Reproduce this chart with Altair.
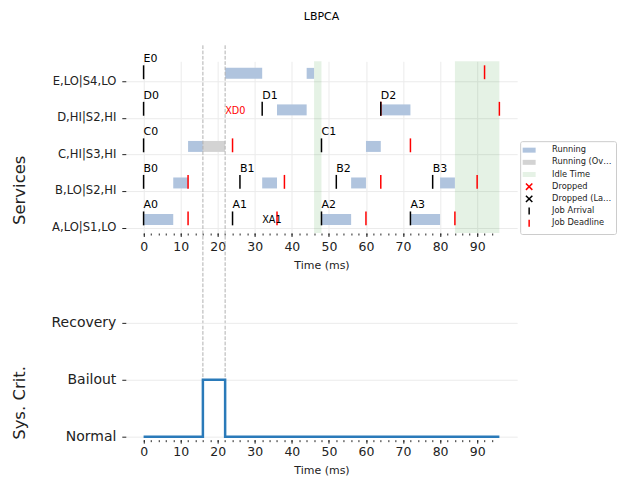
import altair as alt
import pandas as pd

# ---------------- data ----------------
services = ["A,LO|S1,LO", "B,LO|S2,HI", "C,HI|S3,HI", "D,HI|S2,HI", "E,LO|S4,LO"]

run_svc = [0, 0, 0, 1, 1, 1, 1, 2, 2, 3, 3, 4, 4]
run_start = [0, 48, 72, 8, 32, 56, 80, 12, 60, 36, 64, 22, 44]
run_end = [8, 56, 80, 12, 36, 60, 84, 16, 64, 44, 72, 32, 46]

over_svc = [2]
over_start = [16]
over_end = [22]

idle_start = [46, 84]
idle_end = [48, 96]

job_svc = [0, 0, 0, 0, 1, 1, 1, 1, 2, 2, 3, 3, 3, 4]
job_name = ["A0", "A1", "A2", "A3", "B0", "B1", "B2", "B3", "C0", "C1", "D0", "D1", "D2", "E0"]
job_arrival = [0, 24, 48, 72, 0, 26, 52, 78, 0, 48, 0, 32, 64, 0]

dl_svc = [0, 0, 0, 0, 1, 1, 1, 1, 2, 2, 3, 3, 4]
dl_time = [12, 36, 60, 84, 12, 38, 64, 90, 24, 72, 64, 96, 92]

drop_svc = [3, 0]
drop_time = [22, 32]
drop_label = ["XD0", "XA1"]
drop_kind = ["Dropped", "Dropped (Lazy)"]

mode_change = [16, 22]

crit_levels = ["Normal", "Bailout", "Recovery"]
crit_time = [0, 16, 22, 96]
crit_value = [0, 1, 0, 0]

legend_items = ["Running", "Running (Overrun)", "Idle Time", "Dropped",
                "Dropped (Lazy)", "Job Arrival", "Job Deadline"]

major_ticks = list(range(0, 100, 10))
minor_ticks = list(range(0, 96, 2))

# ---------------- frames ----------------
run_df = pd.DataFrame({"svc": run_svc, "start": run_start, "end": run_end})
over_df = pd.DataFrame({"svc": over_svc, "start": over_start, "end": over_end})
idle_df = pd.DataFrame({"start": idle_start, "end": idle_end})
job_df = pd.DataFrame({"svc": job_svc, "name": job_name, "t": job_arrival})
dl_df = pd.DataFrame({"svc": dl_svc, "t": dl_time})
drop_df = pd.DataFrame({"svc": drop_svc, "t": drop_time, "label": drop_label, "kind": drop_kind})
mode_df = pd.DataFrame({"t": mode_change})
crit_df = pd.DataFrame({"t": crit_time, "v": crit_value})
leg_df = pd.DataFrame({"item": legend_items, "t": [-100] * len(legend_items)})

# ---------------- styling ----------------
W, H1, H2 = 392, 172, 117
GAP = 90
TXT = "#222222"
GRID = "#ebebeb"
xs = alt.Scale(domain=[-4.8, 100.8], nice=False, zero=False)
ys1 = alt.Scale(domain=[-0.15, 4.55], nice=False, zero=False)
ys2 = alt.Scale(domain=[-0.05, 2.0], nice=False, zero=False)


def main_xaxis(grid, lpad):
    return alt.Axis(values=major_ticks, title="Time (ms)", grid=grid, gridColor=GRID,
                    tickSize=3.5, tickColor=TXT, labelFontSize=12.5, labelPadding=lpad,
                    labelColor=TXT, titleFontSize=11, titleFontWeight="normal",
                    titleColor=TXT, titlePadding=7, domain=False, orient="bottom",
                    labelFlush=False)


minor_axis = alt.Axis(values=minor_ticks, labels=False, title=None, grid=False,
                      tickSize=2, tickColor=TXT, domain=False, orient="bottom")

svc_expr = "[" + ",".join("'%s'" % s for s in services) + "][datum.value]"
crit_expr = "[" + ",".join("'%s'" % s for s in crit_levels) + "][datum.value]"

yaxis1 = alt.Axis(values=list(range(len(services))), labelExpr=svc_expr, title="Services",
                  titleX=-101, titleY=128.7, titleAngle=270, titleBaseline="alphabetic",
                  titleAlign="center", titleFontSize=16.5, titleFontWeight="normal",
                  titleColor=TXT, grid=True, gridColor=GRID, tickSize=4, tickColor=TXT,
                  labelPadding=6, labelFontSize=11.6, labelColor=TXT, domain=False)

yaxis2 = alt.Axis(values=list(range(len(crit_levels))), labelExpr=crit_expr, title="Sys. Crit.",
                  titleX=-101, titleY=79.7, titleAngle=270, titleBaseline="alphabetic",
                  titleAlign="center", titleFontSize=16.5, titleFontWeight="normal",
                  titleColor=TXT, grid=True, gridColor=GRID, tickSize=4, tickColor=TXT,
                  labelPadding=6, labelFontSize=14, labelColor=TXT, domain=False)

leg_common = dict(orient="none", legendX=395, legendY=80, title=None, labelFontSize=8.3,
                  labelColor=TXT, symbolSize=64, symbolStrokeWidth=1.5, rowPadding=-1.8,
                  labelOffset=18, padding=4, strokeColor="#cccccc", cornerRadius=2,
                  fillColor="white", labelLimit=62)

fill_range = ["#b0c4de", "#d3d3d3", "#e6f2e6", "transparent", "transparent",
              "transparent", "transparent"]
stroke_range = ["transparent", "transparent", "transparent", "red", "black", "black", "red"]
box = "M-1.625,-0.875M1.625,0.875"
rect_path = box + "M-1.625,-0.625L1.625,-0.625L1.625,0.625L-1.625,0.625Z"
x_path = box + "M-0.8,-0.8L0.8,0.8M0.8,-0.8L-0.8,0.8"
bar_path = box + "M0,-0.875L0,0.875"
shape_range = [rect_path, rect_path, rect_path, x_path, x_path, bar_path, bar_path]


def y1(field):
    return alt.Y(field, scale=ys1, axis=yaxis1)


# ---------------- top panel ----------------
idle = alt.Chart(idle_df).mark_rect(fill="green", opacity=0.1).encode(
    x=alt.X("start:Q", scale=xs, axis=None), x2="end:Q",
    y=alt.value(0), y2=alt.value(H1))

running = alt.Chart(run_df).transform_calculate(
    y0="datum.svc + 0.07", y1="datum.svc + 0.37").mark_rect(fill="#b0c4de").encode(
    x=alt.X("start:Q", scale=xs, axis=main_xaxis(True, 4)), x2="end:Q",
    y=y1("y0:Q"), y2="y1:Q")

overrun = alt.Chart(over_df).transform_calculate(
    y0="datum.svc + 0.07", y1="datum.svc + 0.37").mark_rect(fill="#d3d3d3").encode(
    x=alt.X("start:Q", scale=xs, axis=None), x2="end:Q",
    y=y1("y0:Q"), y2="y1:Q")

deadlines = alt.Chart(dl_df).transform_calculate(
    y0="datum.svc + 0.06", y1="datum.svc + 0.44").mark_rule(color="red", strokeWidth=1.5).encode(
    x=alt.X("t:Q", scale=xs, axis=None),
    y=y1("y0:Q"), y2="y1:Q")

arrivals = alt.Chart(job_df).transform_calculate(
    y0="datum.svc + 0.06", y1="datum.svc + 0.44").mark_rule(color="black", strokeWidth=1.5).encode(
    x=alt.X("t:Q", scale=xs, axis=None),
    y=y1("y0:Q"), y2="y1:Q")

labels = alt.Chart(job_df).transform_calculate(
    yl="datum.svc + 0.53").mark_text(align="left", baseline="alphabetic", fontSize=11,
                                     color="black").encode(
    x=alt.X("t:Q", scale=xs, axis=None),
    y=y1("yl:Q"), text="name:N")

drops = alt.Chart(drop_df).transform_calculate(
    yl="datum.svc + 0.2").mark_text(align="left", baseline="middle", fontSize=9.7).encode(
    x=alt.X("t:Q", scale=xs, axis=None),
    y=y1("yl:Q"), text="label:N",
    color=alt.Color("kind:N", scale=alt.Scale(domain=["Dropped", "Dropped (Lazy)"],
                                              range=["red", "black"]), legend=None))

modes = alt.Chart(mode_df).mark_rule(color="#b0b0b0", strokeDash=[3.7, 1.6], strokeWidth=1,
                                     clip=False).encode(
    x=alt.X("t:Q", scale=xs, axis=None),
    y=alt.value(-16), y2=alt.value(H1 + GAP + 114))

legend = alt.Chart(leg_df).mark_point(opacity=1, clip=True, size=64).encode(
    x=alt.X("t:Q", scale=xs, axis=None), y=alt.value(10),
    fill=alt.Fill("item:N", scale=alt.Scale(domain=legend_items, range=fill_range),
                  legend=alt.Legend(**leg_common)),
    stroke=alt.Stroke("item:N", scale=alt.Scale(domain=legend_items, range=stroke_range),
                      legend=alt.Legend(**leg_common)),
    shape=alt.Shape("item:N", scale=alt.Scale(domain=legend_items, range=shape_range),
                    legend=alt.Legend(**leg_common)))

minor_top = alt.Chart(idle_df).mark_point(opacity=0, size=1).encode(
    x=alt.X("start:Q", scale=xs, axis=minor_axis), y=alt.value(0))

top = alt.layer(idle, running, overrun, deadlines, arrivals, labels, drops, modes, legend,
                minor_top).resolve_axis(x="independent").properties(width=W, height=H1)

# ---------------- bottom panel ----------------
crit_line = alt.Chart(crit_df).mark_line(interpolate="step-after", color="#2a7ab9",
                                         strokeWidth=2.5).encode(
    x=alt.X("t:Q", scale=xs, axis=main_xaxis(False, 2)),
    y=alt.Y("v:Q", scale=ys2, axis=yaxis2))

minor_bot = alt.Chart(crit_df).mark_point(opacity=0, size=1).encode(
    x=alt.X("t:Q", scale=xs, axis=minor_axis), y=alt.value(0))

bottom = alt.layer(crit_line, minor_bot).resolve_axis(x="independent").properties(
    width=W, height=H2)

chart = alt.vconcat(top, bottom, spacing=GAP, bounds="flush").properties(
    title=alt.Title("LBPCA", fontSize=11, fontWeight="normal", anchor="middle", offset=23,
                    frame="group", color="black"),
    padding={"left": 4, "top": 2, "right": 0, "bottom": 0},
).configure(font="DejaVu Sans").configure_view(stroke=None)

chart.save("out.html", embed_options={"renderer": "svg", "actions": False})
